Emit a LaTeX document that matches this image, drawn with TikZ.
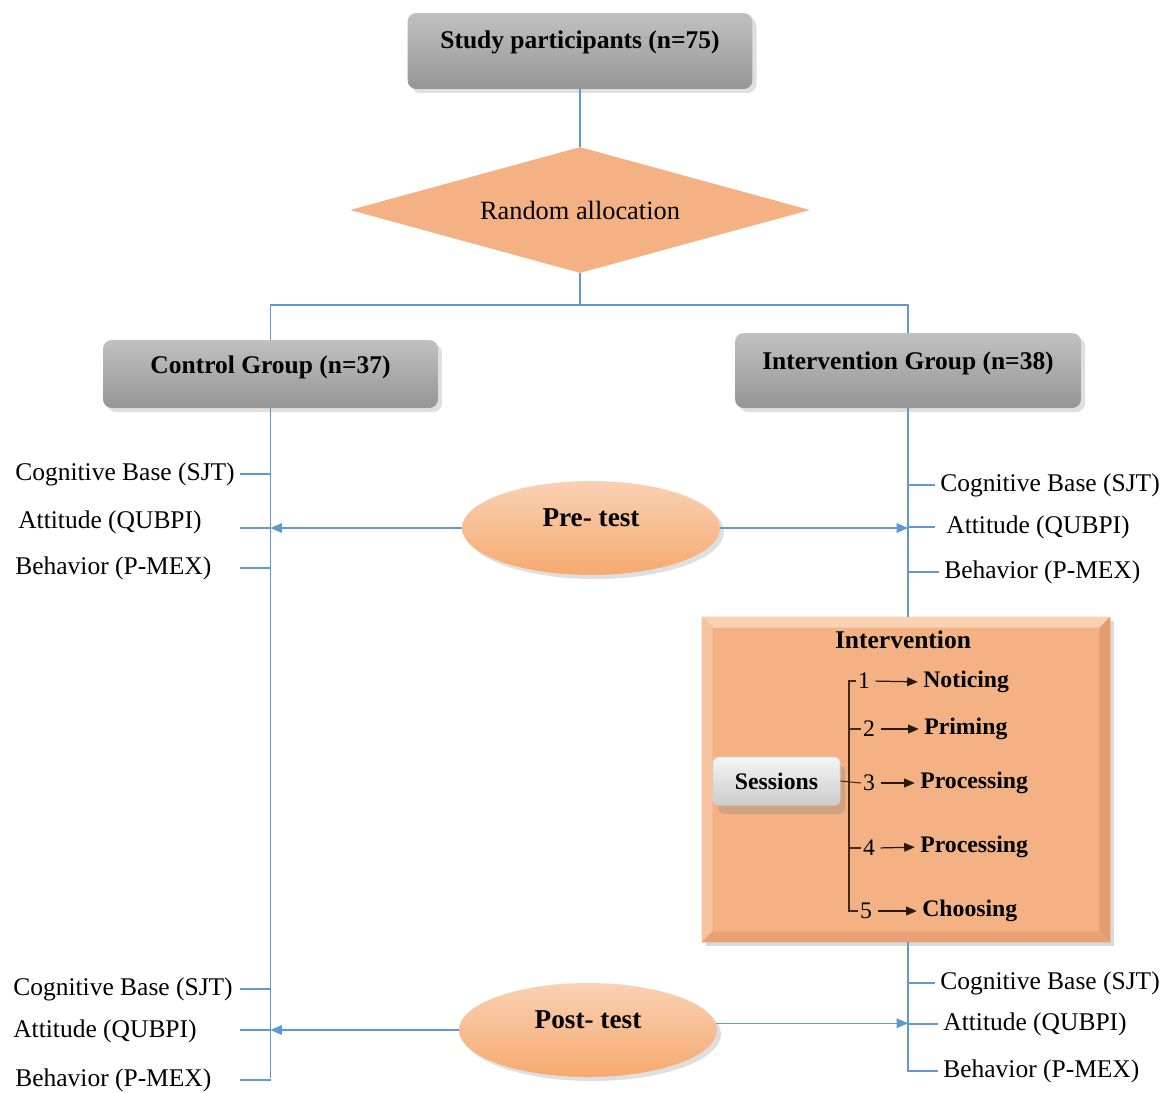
\documentclass[tikz,border=0pt]{standalone}
\usepackage{fontspec}
\setmainfont{Liberation Serif}
\usetikzlibrary{shapes.geometric,arrows.meta,shadows,calc}
\definecolor{linkblue}{RGB}{96,152,208}
\definecolor{peach}{RGB}{244,177,131}
\definecolor{peachlight}{RGB}{249,209,180}
\definecolor{peachdark}{RGB}{228,156,112}
\definecolor{boxgray}{RGB}{166,166,166}
\definecolor{bracketbrown}{RGB}{70,42,24}
\tikzset{
	conn/.style={draw=linkblue,line width=0.8pt},
	bluehead/.style={-{Triangle[length=6.5pt,width=5.5pt]}},
	greybox/.style={rectangle,rounded corners=5pt,top color=boxgray!70!white,bottom color=boxgray!90!black,
		drop shadow={opacity=0.25},inner sep=4pt,font=\fontsize{14.5}{16}\selectfont\bfseries},
	egg/.style={ellipse,top color=peachlight,bottom color=peach!85!orange,minimum width=5.16cm,minimum height=1.88cm,
		drop shadow={opacity=0.25},inner sep=0pt,text height=10.5pt,text depth=12.6pt,font=\fontsize{15.5}{17}\selectfont\bfseries},
	lab/.style={anchor=west,inner sep=0pt,font=\fontsize{14.5}{16}\selectfont},
	ibox/.style={rectangle,fill=peach,minimum width=8.16cm,minimum height=6.5cm,drop shadow={opacity=0.3}},
	sessbox/.style={rectangle,rounded corners=3pt,top color=gray!8,bottom color=gray!40,draw=gray!30,
		minimum width=2.54cm,minimum height=0.96cm,drop shadow={opacity=0.3,shadow xshift=3pt,shadow yshift=-5pt},
		font=\fontsize{13.5}{15}\selectfont\bfseries},
	num/.style={inner sep=1pt,font=\fontsize{13.5}{15}\selectfont},
	itm/.style={anchor=west,inner sep=0pt,font=\fontsize{13.5}{15}\selectfont\bfseries},
	brk/.style={draw=bracketbrown,line width=0.6pt},
	blackhead/.style={-{Triangle[length=6pt,width=5pt]},shorten <=2pt,shorten >=3pt}
}
\begin{document}
\begin{tikzpicture}[x=0.02cm,y=-0.02cm]
	\useasboundingbox (0,0) rectangle (1168,1092);

	\node[greybox,minimum width=6.9cm,minimum height=1.52cm,text height=15.9pt,text depth=19.3pt] (study) at (580,51) {Study participants (n=75)};
	\node[diamond,aspect=3.65,fill=peach,minimum width=9.2cm,minimum height=2.52cm,inner sep=0pt,font=\fontsize{15}{17}\selectfont] (rand) at (580,210) {Random allocation};
	\node[greybox,minimum width=6.7cm,minimum height=1.36cm,text height=14.8pt,text depth=15.9pt] (ctrl) at (270.5,374) {Control Group (n=37)};
	\node[greybox,minimum width=6.92cm,minimum height=1.5cm,text height=17pt,text depth=17.6pt] (intv) at (908,370.5) {Intervention Group (n=38)};

	\coordinate (split) at (580,305);
	\draw[conn] (study) -- (rand);
	\draw[conn] (rand) -- (split);
	\draw[conn] (split) -| (ctrl);
	\draw[conn] (split) -| (intv);

	\node[ibox] (ibox) at (906,779.5) {};
	\fill[peachlight] (ibox.north west) -- (ibox.north east) -- ([shift={(-11,11)}]ibox.north east) -- ([shift={(11,11)}]ibox.north west) -- cycle;
	\fill[peachlight!55!peach] (ibox.north west) -- ([shift={(11,11)}]ibox.north west) -- ([shift={(11,-11)}]ibox.south west) -- (ibox.south west) -- cycle;
	\fill[peachdark] (ibox.north east) -- (ibox.south east) -- ([shift={(-11,-11)}]ibox.south east) -- ([shift={(-11,11)}]ibox.north east) -- cycle;
	\fill[peachdark!70!peach] (ibox.south west) -- ([shift={(11,-11)}]ibox.south west) -- ([shift={(-11,-11)}]ibox.south east) -- (ibox.south east) -- cycle;

	\coordinate (lend) at (270.5,1078);
	\coordinate (rend) at (908,1072);
	\coordinate (ltick) at (240,0);
	\draw[conn] (ctrl) -- (lend);
	\draw[conn] (intv) -- (intv |- ibox.north);
	\draw[conn] (intv |- ibox.south) -- (rend);

	\node[egg] (pre) at (591,528) {Pre- test};
	\node[egg] (post) at (588,1030) {Post- test};
	\draw[conn,bluehead] (pre) -- (pre -| ctrl);
	\draw[conn,bluehead] (pre) -- (pre -| intv);
	\draw[conn,bluehead] (post) -- (post -| ctrl);
	\draw[conn,bluehead] (post.3) -- (post.3 -| intv);

	\node[lab] (lcog1) at (15,474) {Cognitive Base (SJT)};
	\node[lab] (latt1) at (18,522) {Attitude (QUBPI)};
	\node[lab] (lbeh1) at (15,568) {Behavior (P-MEX)};
	\node[lab] (rcog1) at (940,485) {Cognitive Base (SJT)};
	\node[lab] (ratt1) at (946,527) {Attitude (QUBPI)};
	\node[lab] (rbeh1) at (944,572) {Behavior (P-MEX)};
	\node[lab] (lcog2) at (13,989) {Cognitive Base (SJT)};
	\node[lab] (latt2) at (13,1031) {Attitude (QUBPI)};
	\node[lab] (lbeh2) at (15,1080) {Behavior (P-MEX)};
	\node[lab] (rcog2) at (940,983) {Cognitive Base (SJT)};
	\node[lab] (ratt2) at (943,1024) {Attitude (QUBPI)};
	\node[lab] (rbeh2) at (943,1071) {Behavior (P-MEX)};

	\draw[conn] (ltick |- lcog1) -- (lcog1 -| ctrl);
	\draw[conn] (ltick |- pre) -- (pre -| ctrl);
	\draw[conn] (ltick |- lbeh1) -- (lbeh1 -| ctrl);
	\draw[conn] (ltick |- lcog2) -- (lcog2 -| ctrl);
	\draw[conn] (ltick |- post) -- (post -| ctrl);
	\draw[conn] (ltick |- lbeh2) -- (lbeh2 -| ctrl);
	\draw[conn,shorten >=3pt] (rcog1 -| intv) -- (rcog1);
	\draw[conn] (ratt1 -| intv) -- ([xshift=-6pt]ratt1.west);
	\draw[conn,shorten >=3pt] (rbeh1 -| intv) -- (rbeh1);
	\draw[conn,shorten >=3pt] (rcog2 -| intv) -- (rcog2);
	\draw[conn,shorten >=3pt] (ratt2 -| intv) -- (ratt2);
	\draw[conn,shorten >=3pt] (rbeh2 -| intv) -- (rbeh2);

	\node[font=\fontsize{14.5}{16}\selectfont\bfseries] (ititle) at (903,640) {Intervention};
	\node[sessbox] (sess) at (776.5,781) {Sessions};

	\node[num] (n1) at (864,681) {1};
	\node[num] (n2) at (869,729) {2};
	\node[num] (n3) at (869,783) {3};
	\node[num] (n4) at (869,848) {4};
	\node[num] (n5) at (866,911) {5};
	\node[itm] (i1) at (923,682) {Noticing};
	\node[itm] (i2) at (924,729) {Priming};
	\node[itm] (i3) at (920,783) {Processing};
	\node[itm] (i4) at (920,847) {Processing};
	\node[itm] (i5) at (922,911) {Choosing};

	\coordinate (spine) at (849,783);
	\draw[brk] (n1.west) -| (spine) |- (n5.west);
	\draw[brk] (spine |- n2.west) -- (n2.west);
	\draw[brk] (spine |- n4.west) -- (n4.west);
	\draw[brk] (sess.east) -- (n3.west);
	\foreach \k in {1,...,5}
		\draw[bracketbrown!60!black,line width=0.7pt,blackhead] (n\k.east) -- (i\k.west);
\end{tikzpicture}
\end{document}
